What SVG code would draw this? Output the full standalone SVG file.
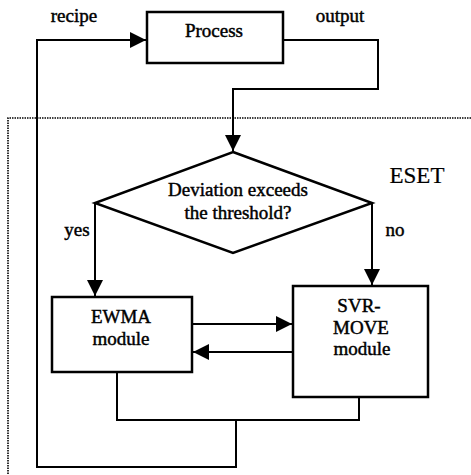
<svg xmlns="http://www.w3.org/2000/svg" width="471" height="475" viewBox="0 0 471 475">
<defs>
<style>
.box{fill:#fff;stroke:#000;stroke-width:2.5}
.ln{fill:none;stroke:#000;stroke-width:2}
.dot{fill:none;stroke:#000;stroke-width:1.6;stroke-dasharray:1.5 1}
text{font-family:"Liberation Serif","Times New Roman",serif;font-size:19px;font-weight:normal;fill:#000;stroke:#000;stroke-width:0.45;text-anchor:middle}
.big{font-size:23px;stroke-width:0.2}
</style>
<marker id="ah" viewBox="0 0 16 16" refX="16" refY="8" markerWidth="16" markerHeight="16" markerUnits="userSpaceOnUse" orient="auto">
<path d="M0,0 L16,8 L0,16 Z" fill="#000"/>
</marker>
</defs>
<rect width="471" height="475" fill="#fff"/>
<g id="eset-border">
<path class="dot" d="M471,118 H8 V475"/>
<text class="big" x="417" y="183">ESET</text>
</g>
<g id="connectors">
<path class="ln" d="M236,420 V467 H37 V40 H146" marker-end="url(#ah)"/>
<path class="ln" d="M283,40 H378 V89 H233 V151" marker-end="url(#ah)"/>
<path class="ln" d="M95,203 V296" marker-end="url(#ah)"/>
<path class="ln" d="M372,203 V285" marker-end="url(#ah)"/>
<path class="ln" d="M192,324 H292" marker-end="url(#ah)"/>
<path class="ln" d="M293,352 H193" marker-end="url(#ah)"/>
<path class="ln" d="M117,373 V420 H359 V398"/>
<text x="74" y="22">recipe</text>
<text x="340" y="22">output</text>
<text x="77" y="236">yes</text>
<text x="395" y="236">no</text>
</g>
<g id="process">
<rect class="box" x="147" y="12" width="136" height="51"/>
<text x="214" y="37">Process</text>
</g>
<g id="decision">
<path class="box" d="M233,152 L372,203 L233,253 L95,203 Z" stroke-width="2"/>
<text x="238" y="196">Deviation exceeds</text>
<text x="238" y="219">the threshold?</text>
</g>
<g id="ewma">
<rect class="box" x="52" y="297" width="140" height="75"/>
<text x="121" y="323">EWMA</text>
<text x="121" y="345">module</text>
</g>
<g id="svr-move">
<rect class="box" x="293" y="286" width="135" height="111"/>
<text x="359" y="312">SVR-</text>
<text x="361" y="334">MOVE</text>
<text x="362" y="355">module</text>
</g>
</svg>
